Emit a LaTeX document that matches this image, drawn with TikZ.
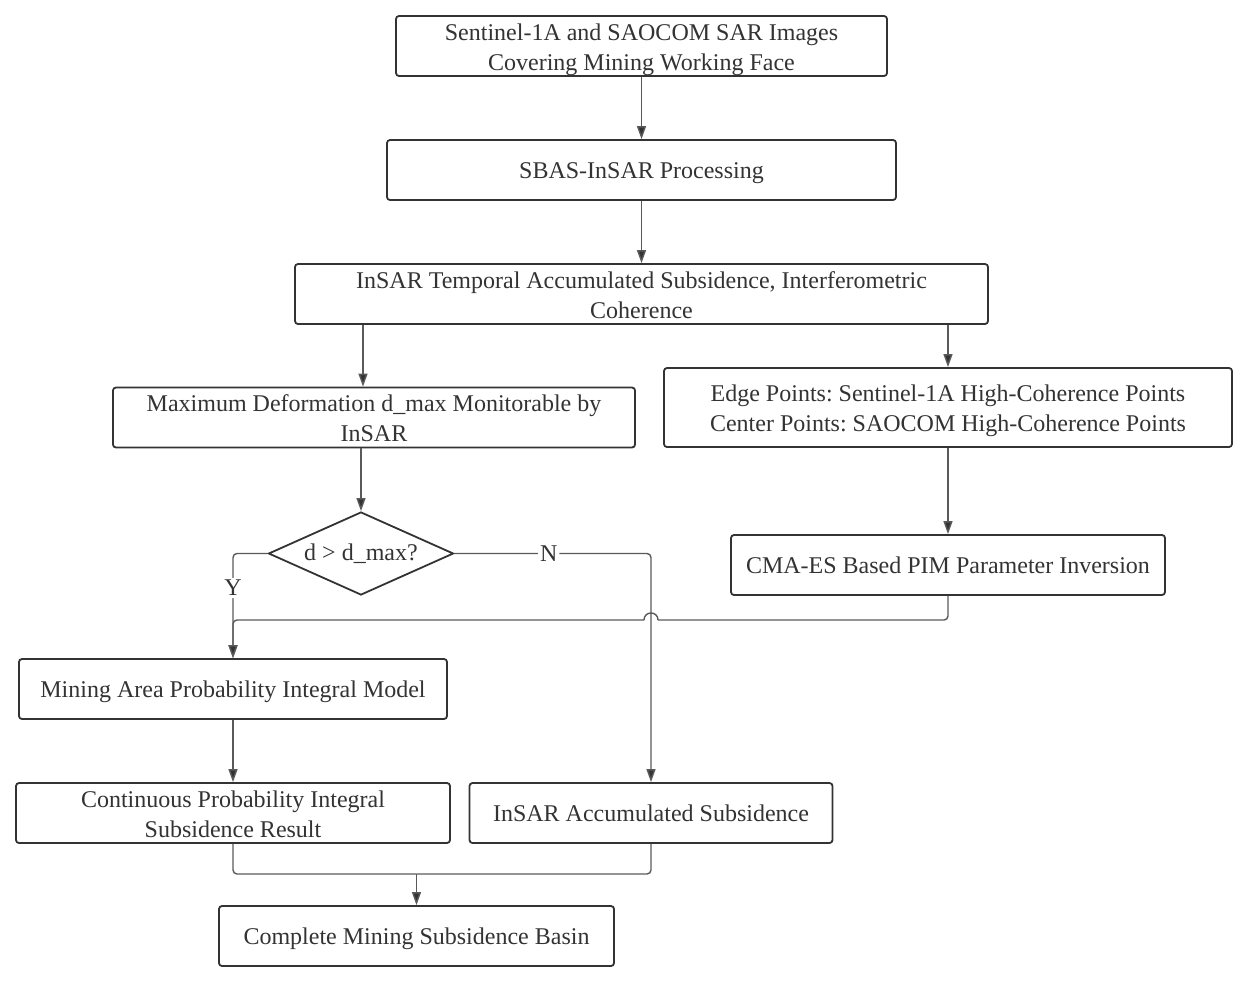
\documentclass[tikz,border=0pt]{standalone}
\usepackage{fontspec}
\setmainfont{Liberation Serif}
\usetikzlibrary{shapes.geometric,arrows.meta}
\definecolor{boxc}{HTML}{333333}
\definecolor{linec}{HTML}{5A5A5A}
\definecolor{txt}{HTML}{333333}
\newcommand{\topstrut}{\rule{0pt}{22pt}}
\newcommand{\botstrut}{\rule[-6pt]{0pt}{6pt}}
\newcommand{\firstline}{\rule{0pt}{24pt}}
\begin{document}
\frenchspacing
\begin{tikzpicture}[x=1pt,y=-1pt,
  box/.style={draw=boxc, line width=1.8pt, rounded corners=3pt, fill=white, align=center, inner sep=0pt, text=txt, font=\fontsize{24}{30}\selectfont, execute at begin node=\topstrut, execute at end node=\botstrut},
  dec/.style={draw=boxc, line width=1.8pt, shape=diamond, aspect=2.23, inner sep=0pt, minimum width=185pt, minimum height=83pt, text=txt, font=\fontsize{24}{30}\selectfont},
  conn/.style={draw=linec, line width=1.4pt, rounded corners=4pt},
  arr/.style={conn, -{Triangle[length=13pt,width=9pt,fill=boxc]}},
  lab/.style={fill=white, inner sep=2pt, text=txt, font=\fontsize{24}{30}\selectfont}
]
\useasboundingbox (0,0) rectangle (1245,980);
\node[box, minimum width=491pt, minimum height=60pt] (img) at (641.5,46) {\firstline Sentinel-1A and SAOCOM SAR Images\\Covering Mining Working Face};
\node[box, minimum width=509pt, minimum height=60pt] (sbas) at (641.5,170) {SBAS-InSAR Processing};
\node[box, minimum width=693pt, minimum height=60pt] (ts) at (641.5,294) {\firstline InSAR Temporal Accumulated Subsidence, Interferometric\\Coherence};
\node[box, minimum width=522pt, minimum height=59pt] (dmax) at (374,417.5) {\firstline Maximum Deformation d\_max Monitorable by\\InSAR};
\node[box, minimum width=568pt, minimum height=79pt] (edge) at (948,407.5) {\firstline Edge Points: Sentinel-1A High-Coherence Points\\Center Points: SAOCOM High-Coherence Points};
\node[dec] (dia) at (361,553.5) {d > d\_max?};
\node[box, minimum width=434pt, minimum height=60pt] (cma) at (948,565) {CMA-ES Based PIM Parameter Inversion};
\node[box, minimum width=428pt, minimum height=60pt] (pim) at (233,689) {Mining Area Probability Integral Model};
\node[box, minimum width=434pt, minimum height=60pt] (cont) at (233,813) {\firstline Continuous Probability Integral\\Subsidence Result};
\node[box, minimum width=363pt, minimum height=60pt] (acc) at (651,813) {InSAR Accumulated Subsidence};
\node[box, minimum width=395pt, minimum height=60pt] (comp) at (416.5,936) {Complete Mining Subsidence Basin};

\coordinate (dx) at (363,0);
\draw[arr] (img.south) -- (sbas.north);
\draw[arr] (sbas.south) -- (ts.north);
\draw[arr] (ts.south -| dx) -- (dmax.north -| dx);
\draw[arr] (ts.south -| edge.north) -- (edge.north);
\draw[arr] (dmax.south -| dia.north) -- (dia.north);
\draw[arr] (edge.south) -- (cma.north);
\draw[arr] (dia.west) -| node[pos=0.665, lab] (y) {Y} (pim.north);
\draw[arr] (dia.east) -| node[pos=0.24, lab] (n) {N} (acc.north);
\coordinate (hopR) at (658,620);
\coordinate (hopL) at (644,620);
\draw[conn] (cma.south) |- (hopR);
\draw[draw=linec, line width=1.4pt] (hopR) .. controls (658,610.7) and (644,610.7) .. (hopL);
\draw[arr] (hopL) -- (pim.north |- hopL) -- (pim.north);
\draw[arr] (pim.south) -- (cont.north);
\coordinate (m) at (416.5,874);
\draw[conn] (cont.south) |- (m);
\draw[conn] (acc.south) |- (m);
\draw[arr] (m) -- (comp.north);
\end{tikzpicture}
\end{document}
